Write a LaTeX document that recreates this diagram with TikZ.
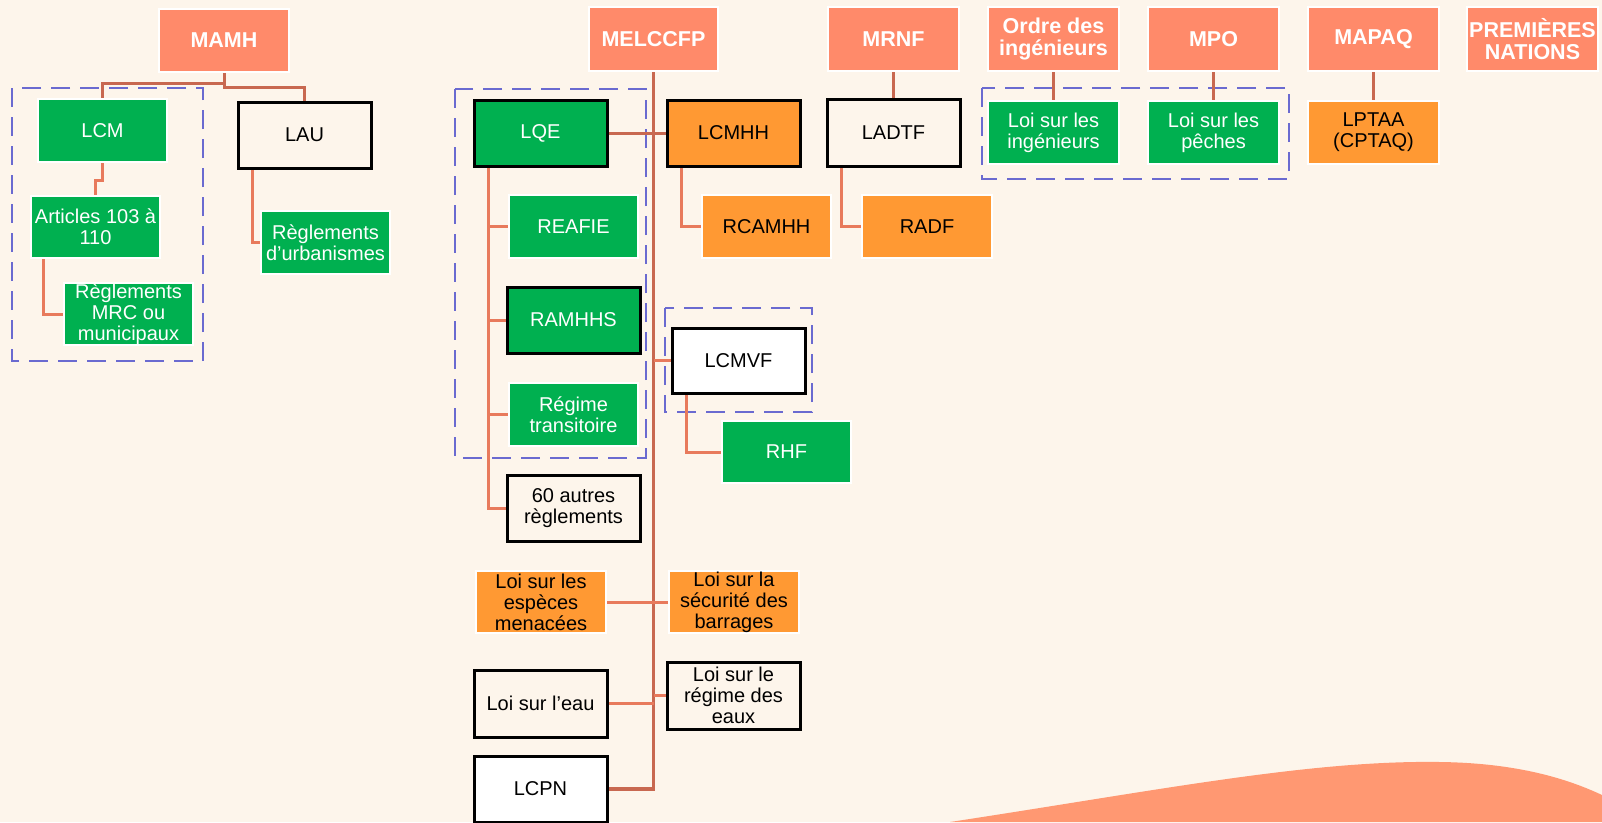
\documentclass[tikz,border=0pt]{standalone}
\usepackage{fontspec}
\setmainfont{Liberation Sans}
\definecolor{bg}{RGB}{253,245,235}
\definecolor{hdr}{RGB}{255,138,106}
\definecolor{wavec}{RGB}{255,152,114}
\definecolor{grn}{RGB}{0,176,80}
\definecolor{org}{RGB}{255,153,51}
\definecolor{grpc}{RGB}{106,106,208}
\definecolor{cdark}{RGB}{200,104,80}
\definecolor{clight}{RGB}{232,122,92}
\pgfdeclarelayer{back}
\pgfdeclarelayer{links}
\pgfsetlayers{back,links,main}
\tikzset{
 box/.style={anchor=north west, inner sep=0pt, outer sep=0pt, align=center, font=\fontsize{20}{21}\selectfont},
 hdrbox/.style={box, fill=hdr, draw=white, line width=2pt, text=white, font=\bfseries\fontsize{21.5}{21.7}\selectfont},
 grnbox/.style={box, fill=grn, draw=white, line width=2pt, text=white},
 grnblk/.style={box, fill=grn, draw=black, line width=3pt, text=white},
 orgbox/.style={box, fill=org, draw=white, line width=2pt, text=black},
 orgblk/.style={box, fill=org, draw=black, line width=3pt, text=black},
 plainbox/.style={box, fill=bg, draw=black, line width=3pt, text=black},
 whitebox/.style={box, fill=white, draw=black, line width=3pt, text=black},
 grp/.style={draw=grpc, line width=2.9pt, dash pattern=on 19pt off 10pt},
 link/.style={draw=clight, line width=3pt},
 linkd/.style={draw=cdark, line width=3pt},
}
\begin{document}
\begin{tikzpicture}[x=1pt,y=-1pt]
\begin{pgfonlayer}{back}
\fill[bg] (0,0) rectangle (1602,822);
\fill[wavec] (950,822) .. controls (1160,790) and (1310,760) .. (1440,762)
  .. controls (1520,763) and (1570,780) .. (1602,795) -- (1602,822) -- cycle;
\draw[grp] (12,88) rectangle (203,361);
\draw[grp] (455,89) rectangle (646,458);
\draw[grp] (665,308) rectangle (812,412);
\draw[grp] (982,88) rectangle (1289,179);
\end{pgfonlayer}
\useasboundingbox (0,0) rectangle (1602,822);

% MAMH
\node[hdrbox, minimum width=130pt, minimum height=63pt] (MAMH) at (159,9) {MAMH};
\node[grnbox, minimum width=129pt, minimum height=63pt] (LCM) at (38,99) {LCM};
\node[grnbox, minimum width=129pt, minimum height=62pt] (Articles) at (31,196) {Articles 103 à\\110};
\node[grnbox, minimum width=129pt, minimum height=62pt] (RMRC) at (64,283) {Règlements\\MRC ou\\municipaux};
\node[plainbox, minimum width=133pt, minimum height=66pt] (LAU) at (238,102) {LAU};
\node[grnbox, minimum width=129pt, minimum height=63pt] (Rurb) at (261,211) {Règlements\\d’urbanismes};

% MELCCFP
\node[hdrbox, minimum width=129pt, minimum height=64pt] (MELCCFP) at (589,7) {MELCCFP};
\node[grnblk, minimum width=133pt, minimum height=66pt] (LQE) at (474,100) {LQE};
\node[orgblk, minimum width=133pt, minimum height=66pt] (LCMHH) at (667,100) {LCMHH};
\node[grnbox, minimum width=129pt, minimum height=63pt] (REAFIE) at (509,195) {REAFIE};
\node[grnblk, minimum width=133pt, minimum height=66pt] (RAMHHS) at (507,287) {RAMHHS};
\node[grnbox, minimum width=129pt, minimum height=63pt] (Regime) at (509,383) {Régime\\transitoire};
\node[plainbox, minimum width=133pt, minimum height=66pt] (Autres) at (507,475) {60 autres\\règlements};
\node[orgbox, minimum width=129pt, minimum height=63pt] (RCAMHH) at (702,195) {RCAMHH};
\node[whitebox, minimum width=133pt, minimum height=65pt] (LCMVF) at (672,328) {LCMVF};
\node[grnbox, minimum width=129pt, minimum height=62pt] (RHF) at (722,421) {RHF};
\node[orgbox, minimum width=130pt, minimum height=62pt] (Esp) at (476,571) {Loi sur les\\espèces\\menacées};
\node[orgbox, minimum width=130pt, minimum height=62pt] (Barr) at (669,571) {Loi sur la\\sécurité des\\barrages};
\node[plainbox, minimum width=133pt, minimum height=67pt] (Eau) at (474,670) {Loi sur l’eau};
\node[plainbox, minimum width=133pt, minimum height=67pt] (Regeaux) at (667,662) {Loi sur le\\régime des\\eaux};
\node[whitebox, minimum width=133pt, minimum height=66pt] (LCPN) at (474,756) {LCPN};

% MRNF
\node[hdrbox, minimum width=131pt, minimum height=64pt] (MRNF) at (828,7) {MRNF};
\node[plainbox, minimum width=133pt, minimum height=67pt] (LADTF) at (827,99) {LADTF};
\node[orgbox, minimum width=130pt, minimum height=63pt] (RADF) at (862,195) {RADF};

% Others
\node[hdrbox, minimum width=131pt, minimum height=64pt] (Ordre) at (988,7) {Ordre des\\ingénieurs};
\node[grnbox, minimum width=131pt, minimum height=63pt] (Ling) at (988,101) {Loi sur les\\ingénieurs};
\node[hdrbox, minimum width=131pt, minimum height=64pt] (MPO) at (1148,7) {MPO};
\node[grnbox, minimum width=131pt, minimum height=63pt] (Lpeche) at (1148,101) {Loi sur les\\pêches};
\node[hdrbox, minimum width=131pt, minimum height=64pt] (MAPAQ) at (1308,7) {MAPAQ};
\node[orgbox, minimum width=131pt, minimum height=63pt] (LPTAA) at (1308,101) {LPTAA\\(CPTAQ)};
\node[hdrbox, minimum width=131pt, minimum height=64pt] (PN) at (1467,7) {PREMIÈRES\\NATIONS};

\begin{pgfonlayer}{links}
\draw[linkd] (MAMH.south) -- ++(0,11) -| (LCM.north);
\draw[linkd] (MAMH.south) -- ++(0,15) -| (LAU.north);
\draw[link] (LCM.south) -- ++(0,18) -| (Articles.north);
\draw[link] ([xshift=12pt]Articles.south west) |- (RMRC.west);
\draw[link] ([xshift=14pt]LAU.south west) |- (Rurb.west);
\draw[linkd, line width=3.4pt] (MELCCFP.south) -- (MELCCFP.south |- LCPN.east) -- (LCPN.east);
\draw[linkd] (LQE.east) -- (LCMHH.west);
\foreach \n in {REAFIE,RAMHHS,Regime,Autres}
  \draw[link] ([xshift=14pt]LQE.south west) |- (\n.west);
\draw[link] ([xshift=14pt]LCMHH.south west) |- (RCAMHH.west);
\draw[link] (LCMVF.west -| MELCCFP.south) -- (LCMVF.west);
\draw[link] ([xshift=14pt]LCMVF.south west) |- (RHF.west);
\draw[link] (Esp.east) -- (Barr.west);
\draw[link] (Eau.east) -- (Eau.east -| MELCCFP.south);
\draw[link] (Regeaux.west) -- (Regeaux.west -| MELCCFP.south);
\draw[linkd] (MRNF.south) -- (LADTF.north);
\draw[link] ([xshift=14pt]LADTF.south west) |- (RADF.west);
\draw[linkd] (Ordre.south) -- (Ling.north);
\draw[linkd] (MPO.south) -- (Lpeche.north);
\draw[linkd] (MAPAQ.south) -- (LPTAA.north);
\end{pgfonlayer}
\end{tikzpicture}
\end{document}
